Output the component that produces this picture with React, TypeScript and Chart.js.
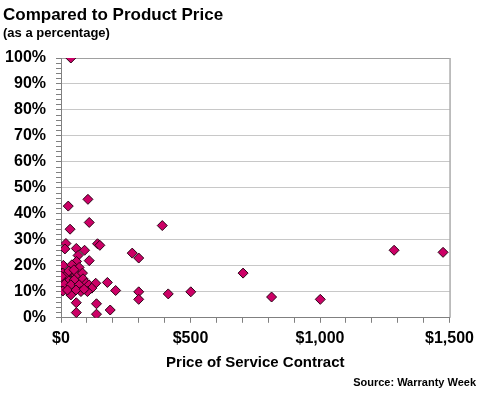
import React, { useEffect, useRef } from "react";
import { Chart, registerables } from "chart.js";

Chart.register(...registerables);

// Price of service contract ($)
const prices: number[] = [
  38, 28, 104, 109, 35, 391, 19, 15, 59, 91, 141, 150, 66, 109, 60, 9, 42, 70,
  7, 38, 19, 58, 83, 4, 30, 51, 85, 98, 13, 38, 70, 108, 134, 119, 179, 7, 38,
  77, 102, 59, 59, 137, 137, 190, 211, 275, 300, 300, 300, 414, 501, 703, 813,
  1001, 1286, 1475, 25, 58, 89, 30, 50, 2,
];
// Service contract price as a percentage of product price
const percents: number[] = [
  100, 43, 45.6, 36.7, 34.1, 35.5, 28.6, 26.5, 26.7, 26, 28.5, 27.9, 24, 22,
  21.7, 20.2, 20.4, 19.4, 17.2, 17.6, 16.3, 16.3, 17.2, 14.6, 14.2, 14.6, 15,
  13.3, 12.9, 12.7, 12.7, 12.7, 13.3, 11.4, 13.6, 10.3, 8.8, 10.1, 10.1, 5.8, 2,
  5.4, 1.4, 3, 10.5, 24.9, 23, 10, 7.1, 9.2, 10, 17.2, 8, 7.1, 26, 25.2, 10.7,
  10.7, 11, 18, 18.5, 16,
];

const xTickValues: number[] = [0, 500, 1000, 1500];
const yTickValues: number[] = [0, 10, 20, 30, 40, 50, 60, 70, 80, 90, 100];

const titleText = "Compared to Product Price";
const subtitleText = "(as a percentage)";
const xAxisTitle = "Price of Service Contract";
const sourceText = "Source: Warranty Week";

const FONT = '"Liberation Sans", Arial, sans-serif';

export default function App() {
  const canvasRef = useRef<HTMLCanvasElement | null>(null);

  useEffect(() => {
    const canvas = canvasRef.current;
    if (!canvas) return;

    const points = prices.map((p, i) => ({ x: p, y: percents[i] }));

    const framePlugin = {
      id: "frameAndSource",
      afterDraw(chart: any) {
        const { ctx, chartArea } = chart;
        ctx.save();
        ctx.strokeStyle = "#808080";
        ctx.lineWidth = 1;
        ctx.beginPath();
        ctx.moveTo(chartArea.right + 0.5, chartArea.top);
        ctx.lineTo(chartArea.right + 0.5, chartArea.bottom);
        ctx.stroke();
        ctx.font = `bold 11px ${FONT}`;
        ctx.fillStyle = "#000";
        ctx.textAlign = "right";
        ctx.textBaseline = "middle";
        ctx.fillText(sourceText, chart.width - 4, 383);
        ctx.restore();
      },
    };

    const chart = new Chart(canvas, {
      type: "scatter",
      data: {
        datasets: [
          {
            data: points,
            pointStyle: "rectRot",
            pointRadius: 5,
            pointHoverRadius: 5,
            backgroundColor: "#cc0066",
            borderColor: "#2a0015",
            borderWidth: 1,
          },
        ],
      },
      options: {
        animation: false,
        responsive: false,
        events: [],
        color: "#000",
        layout: { padding: { left: 3, right: 29, top: 5, bottom: 28 } },
        plugins: {
          legend: { display: false },
          tooltip: { enabled: false },
          title: {
            display: true,
            text: titleText,
            align: "start",
            color: "#000",
            font: { family: FONT, size: 17, weight: "bold", lineHeight: 1.2 },
            padding: { top: 0, bottom: 0 },
          },
          subtitle: {
            display: true,
            text: subtitleText,
            align: "start",
            color: "#000",
            font: { family: FONT, size: 13, weight: "bold", lineHeight: 1.2 },
            padding: { top: 0, bottom: 17 },
          },
        },
        scales: {
          x: {
            type: "linear",
            min: 0,
            max: 1500,
            afterBuildTicks: (scale: any) => {
              const t: any[] = [];
              for (let v = 0; v <= 1500; v += 100) t.push({ value: v });
              scale.ticks = t;
            },
            ticks: {
              autoSkip: false,
              maxRotation: 0,
              minRotation: 0,
              padding: 6,
              color: "#000",
              font: { family: FONT, size: 16, weight: "bold" },
              callback: (v: any) =>
                xTickValues.includes(Number(v))
                  ? "$" + Number(v).toLocaleString("en-US")
                  : "",
            },
            grid: {
              drawOnChartArea: false,
              tickLength: 5,
              tickColor: "#808080",
            },
            border: { color: "#808080" },
            title: {
              display: true,
              text: xAxisTitle,
              color: "#000",
              font: { family: FONT, size: 15, weight: "bold", lineHeight: 1.2 },
              padding: { top: 0, bottom: 0 },
            },
          },
          y: {
            type: "linear",
            min: 0,
            max: 100,
            afterBuildTicks: (scale: any) => {
              const t: any[] = [];
              for (let v = 0; v <= 100; v += 2) t.push({ value: v });
              scale.ticks = t;
            },
            afterFit: (scale: any) => {
              scale.width = 58;
            },
            ticks: {
              autoSkip: false,
              padding: 10,
              color: "#000",
              font: { family: FONT, size: 16, weight: "bold" },
              callback: (v: any) =>
                yTickValues.includes(Number(v)) ? v + "%" : "",
            },
            grid: {
              color: (ctx: any) =>
                ctx.tick && yTickValues.includes(ctx.tick.value) && ctx.tick.value !== 0
                  ? ctx.tick.value === 100
                    ? "#a0a0a0"
                    : "#c8c8c8"
                  : "rgba(0,0,0,0)",
              tickColor: "#808080",
              tickLength: 5,
            },
            border: { color: "#808080" },
          },
        },
      },
      plugins: [framePlugin],
    } as any);

    return () => chart.destroy();
  }, []);

  return (
    <div style={{ position: "absolute", left: 0, top: 0, width: 480, height: 400, background: "#fff" }}>
      <canvas ref={canvasRef} width={480} height={400} style={{ display: "block" }} />
    </div>
  );
}
